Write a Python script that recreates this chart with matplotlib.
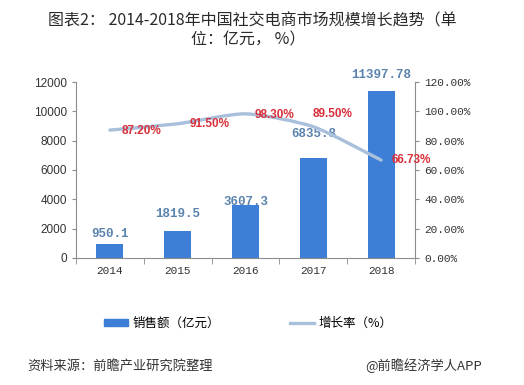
import numpy as np
import matplotlib.pyplot as plt
from matplotlib.path import Path
from matplotlib.patches import PathPatch, Patch
from matplotlib.lines import Line2D

plt.rcParams['font.family'] = ['Noto Sans CJK SC', 'DejaVu Sans']

years = ['2014', '2015', '2016', '2017', '2018']
sales = [950.1, 1819.5, 3607.3, 6835.8, 11397.78]
sales_labels = ['950.1', '1819.5', '3607.3', '6835.8', '11397.78']
growth = [0.872, 0.915, 0.983, 0.895, 0.6673]
growth_labels = ['87.20%', '91.50%', '98.30%', '89.50%', '66.73%']

bar_color = '#3d7fd6'
line_color = '#a8c0dc'
val_color = '#5a82ad'
pct_color = '#d8303a'
mono = 'Liberation Mono'

fig = plt.figure(figsize=(5.24, 3.85), dpi=100)
ax = fig.add_axes([0.145, 0.33, 0.647, 0.457])
x = np.arange(len(years))
ax.bar(x, sales, width=0.4, color=bar_color, zorder=2)
ax.set_xlim(-0.5, len(years) - 0.5)
ax.set_ylim(0, 12000)
ax.set_yticks(range(0, 12001, 2000))
ax.set_xticks(x)
ax.set_xticklabels(years, family=mono, fontsize=8)
for lab in ax.get_yticklabels():
    lab.set_family('Liberation Sans')
    lab.set_fontsize(8.5)
ax.spines['top'].set_visible(False)
ax.spines['right'].set_visible(False)
for s in ('left', 'bottom'):
    ax.spines[s].set_color('#8c8c8c')
ax.tick_params(colors='#333333', length=3, color='#8c8c8c')
ax.set_xticks(np.arange(-0.5, len(years), 1), minor=True)
ax.tick_params(axis='x', which='major', length=0, pad=6)
ax.tick_params(axis='x', which='minor', length=4, color='#8c8c8c')

# value labels above bars
bar_offsets = [(0, 3), (0, 8), (0, -2), (0, 13), (0, 7)]
for xi, v, lab, off in zip(x, sales, sales_labels, bar_offsets):
    ax.annotate(lab, (xi, v), xytext=off, textcoords='offset points',
                ha='center', va='bottom', color=val_color, fontsize=9,
                fontweight='bold', family=mono, zorder=5)

ax2 = ax.twinx()
ax2.set_ylim(0, 1.2)
ax2.set_yticks(np.arange(0, 1.21, 0.2))
ax2.set_yticklabels(['%.2f%%' % (t * 100) for t in np.arange(0, 1.21, 0.2)],
                    family=mono, fontsize=8)
for s in ('top', 'left', 'bottom'):
    ax2.spines[s].set_visible(False)
ax2.spines['right'].set_color('#8c8c8c')
ax2.tick_params(colors='#333333', length=3, color='#8c8c8c')

# smoothed line (Catmull-Rom style Bezier control points)
pts = np.column_stack([x, growth]).astype(float)
verts = [tuple(pts[0])]
codes = [Path.MOVETO]
for i in range(len(pts) - 1):
    p0 = pts[i - 1] if i > 0 else pts[i]
    p1, p2 = pts[i], pts[i + 1]
    p3 = pts[i + 2] if i + 2 < len(pts) else pts[i + 1]
    c1 = p1 + (p2 - p0) / 9
    c2 = p2 - (p3 - p1) / 9
    verts += [tuple(c1), tuple(c2), tuple(p2)]
    codes += [Path.CURVE4] * 3
ax2.add_patch(PathPatch(Path(verts, codes), fill=False, edgecolor=line_color,
                        lw=2.4, capstyle='round', zorder=3))

pct_offsets = [(23, -1), (23, 0), (21, -1), (14, 9), (22, 0)]
for xi, g, lab, off in zip(x, growth, growth_labels, pct_offsets):
    ax2.annotate(lab, (xi, g), xytext=off, textcoords='offset points',
                 ha='center', va='center', color=pct_color, fontsize=8.5,
                 fontweight='bold', family='Liberation Sans', zorder=6)

fig.text(0.482, 0.945, '图表2： 2014-2018年中国社交电商市场规模增长趋势（单',
         ha='center', va='center', fontsize=11.5, color='#2a2a2a')
fig.text(0.474, 0.895, '位：亿元， %）', ha='center', va='center',
         fontsize=11.5, color='#2a2a2a')

handles = [Patch(color=bar_color), Line2D([0], [0], color=line_color, lw=2.4)]
fig.legend(handles, ['销售额（亿元）', '增长率（%）'], loc='center',
           bbox_to_anchor=(0.474, 0.161), ncol=2, frameon=False, fontsize=9,
           columnspacing=5.6, handlelength=1.9, handleheight=0.5,
           handletextpad=0.4)

fig.text(0.053, 0.05, '资料来源：前瞻产业研究院整理', ha='left', va='center',
         fontsize=9.5, style='italic', color='#333333')
fig.text(0.92, 0.05, '@前瞻经济学人APP', ha='right', va='center',
         fontsize=9.5, color='#333333')

fig.savefig('out.png', dpi=100)
